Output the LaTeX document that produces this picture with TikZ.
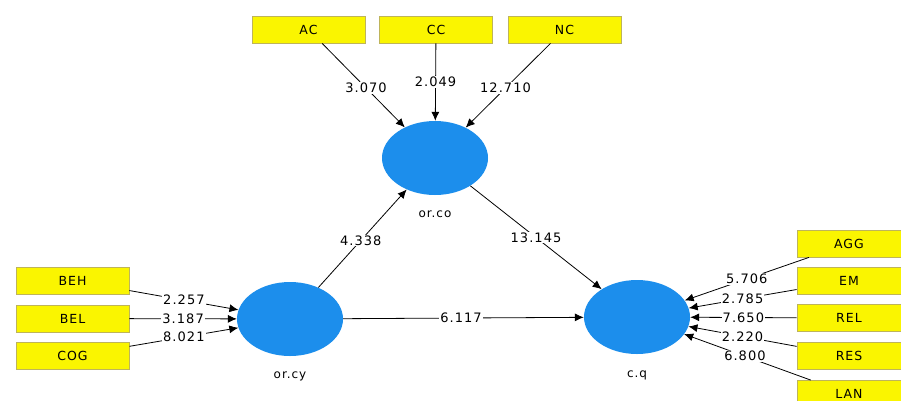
\documentclass[tikz,border=0pt]{standalone}
\usepackage{fontspec}
\setmainfont{DejaVu Sans}[LetterSpace=8]
\usetikzlibrary{shapes.geometric,arrows.meta}
\definecolor{boxyellow}{RGB}{250,245,0}
\definecolor{boxedge}{RGB}{190,180,90}
\definecolor{latblue}{RGB}{28,142,236}
\tikzset{
  indbox/.style={draw=boxedge,fill=boxyellow,line width=0.8pt,minimum width=113pt,minimum height=27pt,inner sep=0pt,font=\fontsize{12.5}{13}\selectfont},
  latent/.style={ellipse,fill=latblue,draw=none,minimum width=106pt,minimum height=74pt,inner sep=0pt},
  lname/.style={font=\fontsize{12}{12}\selectfont,inner sep=1pt},
  conn/.style={line width=0.8pt,-{Latex[length=9pt,width=8pt]}},
  wlabel/.style={fill=white,inner sep=1pt,font=\fontsize{13}{13}\selectfont}
}
\begin{document}
\begin{tikzpicture}[x=1pt,y=-1pt]
\useasboundingbox (0,0) rectangle (901,400);
\clip (0,0) rectangle (901,400);
\fill[white] (0,0) rectangle (901,400);
% latent variables
\node[latent] (orco) at (435,158) {};
\node[latent] (orcy) at (290,319) {};
\node[latent] (cq) at (637,317) {};
\node[lname] (orcolab) at (435,214) {or.co};
\node[lname] (orcylab) at (290,376) {or.cy};
\node[lname] (cqlab) at (637,375) {c.q};
% indicators
\node[indbox] (AC) at (308.5,29.5) {AC};
\node[indbox] (CC) at (436,29.5) {CC};
\node[indbox] (NC) at (564.5,29.5) {NC};
\node[indbox] (BEH) at (72.5,280.5) {BEH};
\node[indbox] (BEL) at (72.5,318.5) {BEL};
\node[indbox] (COG) at (72.5,356) {COG};
\node[indbox,minimum width=104pt] (AGG) at (849,243.5) {AGG};
\node[indbox,minimum width=104pt] (EM) at (849,280.5) {EM};
\node[indbox,minimum width=104pt] (REL) at (849,318) {REL};
\node[indbox,minimum width=104pt] (RES) at (849,356) {RES};
\node[indbox,minimum width=104pt] (LAN) at (849,394) {LAN};
% connectors
\draw[conn] (AC) -- node[wlabel,pos=0.53] (lAC) {3.070} (orco);
\draw[conn] (CC) -- node[wlabel,pos=0.5] (lCC) {2.049} (orco);
\draw[conn] (NC) -- node[wlabel,pos=0.53] (lNC) {12.710} (orco);
\draw[conn] (BEH) -- node[wlabel,pos=0.5] (lBEH) {2.257} (orcy);
\draw[conn] (BEL) -- node[wlabel,pos=0.5] (lBEL) {3.187} (orcy);
\draw[conn] (COG) -- node[wlabel,pos=0.5] (lCOG) {8.021} (orcy);
\draw[conn] (AGG) -- node[wlabel,pos=0.5] (lAGG) {5.706} (cq);
\draw[conn] (EM) -- node[wlabel,pos=0.5] (lEM) {2.785} (cq);
\draw[conn] (REL) -- node[wlabel,pos=0.5] (lREL) {7.650} (cq);
\draw[conn] (RES) -- node[wlabel,pos=0.5] (lRES) {2.220} (cq);
\draw[conn] (LAN) -- node[wlabel,pos=0.52] (lLAN) {6.800} (cq);
\draw[conn] (orcy) -- node[wlabel,pos=0.48] (lcyco) {4.338} (orco);
\draw[conn] (orco) -- node[wlabel,pos=0.5] (lcocq) {13.145} (cq);
\draw[conn] (orcy) -- node[wlabel,pos=0.49] (lcycq) {6.117} (cq);
\end{tikzpicture}
\end{document}
